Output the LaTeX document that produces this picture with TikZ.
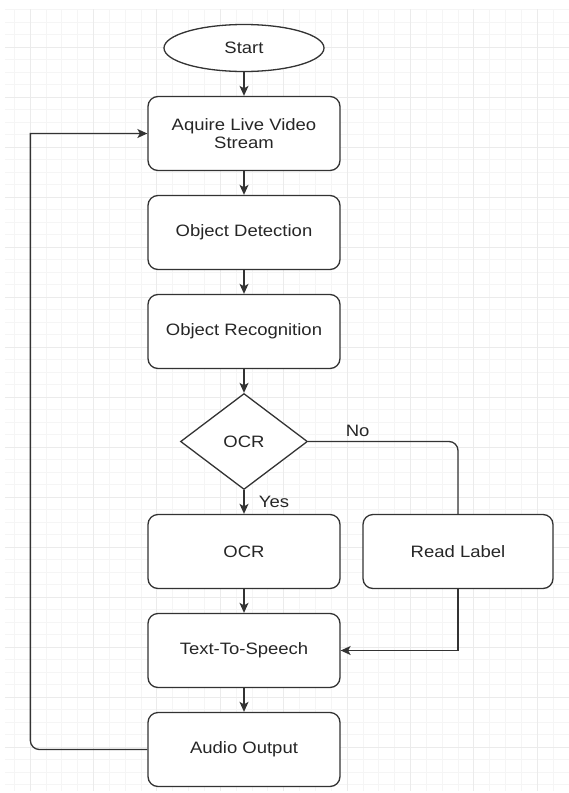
\documentclass[tikz,border=0pt]{standalone}
\usepackage{fontspec}
\newfontfamily\flowfont[FakeStretch=1.12]{Liberation Sans}
\usepackage{tikz}
\usetikzlibrary{arrows.meta, positioning, shapes.geometric}
\definecolor{linegray}{HTML}{333333}

\begin{document}
\begin{tikzpicture}[
      x=1pt, y=-1pt,
      node distance=23.7pt and 21.7pt,
      every node/.style={font=\flowfont\fontsize{16.5}{17.5}\selectfont, text=black!85},
      box/.style={draw=linegray, fill=white, rounded corners=10pt, line width=1.3pt,
                  minimum width=192pt, minimum height=74pt, align=center, inner sep=0pt},
      startstop/.style={box, ellipse, minimum width=160pt, minimum height=47pt},
      decision/.style={box, diamond, rounded corners=0pt,
                       minimum width=127pt, minimum height=96pt},
      link/.style={-{Stealth[length=10pt, width=9pt, inset=2.5pt]}, line width=1.3pt, linegray},
      plain/.style={line width=1.3pt, linegray},
      minorgrid/.style={black!4, line width=0.7pt},
      majorgrid/.style={black!8, line width=0.7pt}
    ]
    \useasboundingbox (0,0) rectangle (569,793);
    % background grid
    \begin{scope}
      \clip (5,9) rectangle (569,790);
      \foreach \k in {-2,...,34} \draw[minorgrid] ({30+15.85*\k},0) -- ++(0,793);
      \foreach \k in {-3,...,62} \draw[minorgrid] (0,{47+12.5*\k}) -- ++(569,0);
      \foreach \k in {-1,...,9} \draw[majorgrid] ({30+63.4*\k},0) -- ++(0,793);
      \foreach \k in {-1,...,15} \draw[majorgrid] (0,{47+50*\k}) -- ++(569,0);
    \end{scope}

    \node[startstop] (start) at (244,48) {Start};
    \node[box, below=of start] (aquire) {Aquire Live Video\\Stream};
    \node[box, below=of aquire] (detect) {Object Detection};
    \node[box, below=of detect] (recog) {Object Recognition};
    \node[decision, below=of recog] (ocrq) {OCR};
    \node[box, below=of ocrq] (ocr) {OCR};
    \node[box, right=of ocr, minimum width=190pt] (readlbl) {Read Label};
    \node[box, below=of ocr] (tts) {Text-To-Speech};
    \node[box, below=of tts] (audio) {Audio Output};

    \draw[link] (start) -- (aquire);
    \draw[link] (aquire) -- (detect);
    \draw[link] (detect) -- (recog);
    \draw[link] (recog) -- (ocrq);
    \draw[link] (ocrq) -- node[right=11pt]{Yes} (ocr);
    \draw[link] (ocr) -- (tts);
    \draw[link] (tts) -- (audio);

    \draw[plain, rounded corners=9pt] (ocrq.east) -| node[pos=.165, above=1pt]{No} (readlbl.north);
    \draw[link] (readlbl.south) |- (tts.east);
    \draw[link] (audio.west) [rounded corners=9pt] -- ++(-117,0) coordinate (back)
      [sharp corners] -- (back |- aquire.west) -- (aquire.west);
  \end{tikzpicture}
\end{document}
